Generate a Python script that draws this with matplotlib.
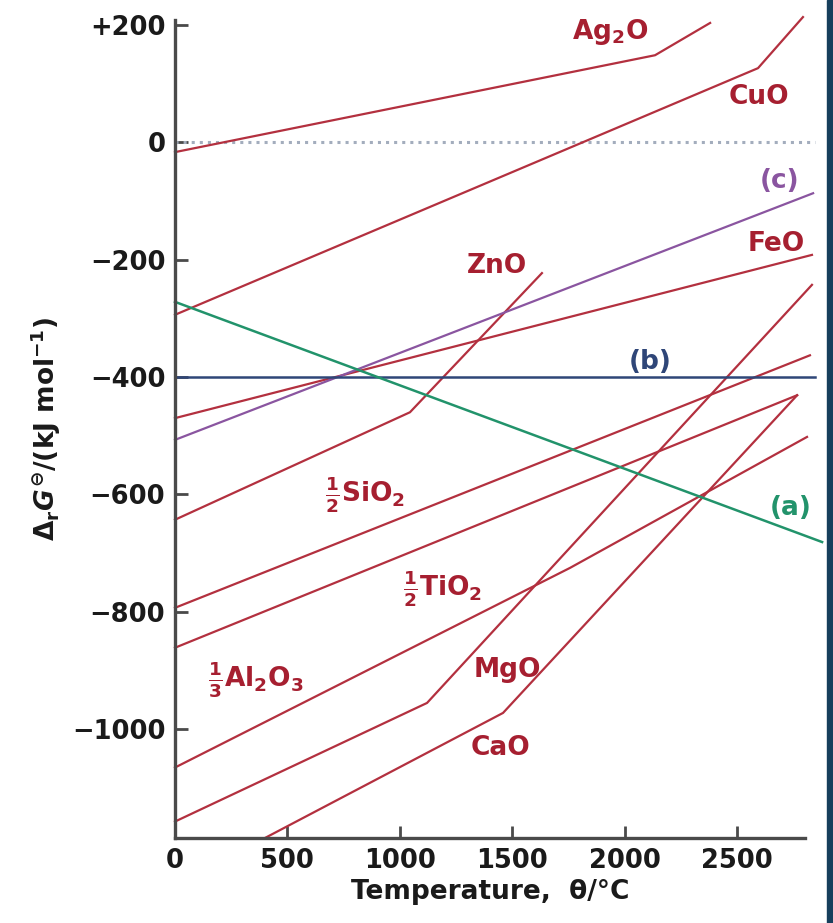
import matplotlib
matplotlib.use("Agg")
import matplotlib.pyplot as plt
from matplotlib.patches import Rectangle

plt.rcParams['font.family'] = ['DejaVu Sans']
plt.rcParams['font.weight'] = 'bold'
plt.rcParams['mathtext.fontset'] = 'custom'
plt.rcParams['mathtext.rm'] = 'DejaVu Sans:bold'
plt.rcParams['mathtext.it'] = 'DejaVu Sans:bold:italic'
plt.rcParams['mathtext.bf'] = 'DejaVu Sans:bold'

# Ellingham lines: temperature (°C) and ΔrG° (kJ/mol)
ag2o_t = [0, 2135, 2380]
ag2o_g = [-17, 148, 203]
cuo_t = [0, 2593, 2793]
cuo_g = [-294, 126, 213]
feo_t = [0, 2833]
feo_g = [-470, -192]
zno_t = [0, 1045, 1632]
zno_g = [-643, -460, -223]
sio2_t = [0, 2824]
sio2_g = [-793, -363]
tio2_t = [0, 2767]
tio2_g = [-861, -431]
al2o3_t = [0, 1757, 2811]
al2o3_g = [-1065, -725, -502]
mgo_t = [0, 1121, 2833]
mgo_g = [-1157, -955, -243]
cao_t = [400, 1459, 2767]
cao_g = [-1185, -972, -431]

# carbon lines
a_t = [0, 2878]
a_g = [-272, -681]
b_t = [0, 2847]
b_g = [-400, -400]
c_t = [0, 2838]
c_g = [-507, -87]
zero_t = [0, 2847]
zero_g = [0, 0]

x_ticks = [0, 500, 1000, 1500, 2000, 2500]
y_ticks = [200, 0, -200, -400, -600, -800, -1000]
y_tick_labels = ['+200', '0', '\u2212200', '\u2212400', '\u2212600', '\u2212800', '\u22121000']

RED = '#b3303f'
RED_TXT = '#a61f30'
GREEN = '#22936b'
BLUE = '#2f4678'
PURPLE = '#8a55a0'

fig = plt.figure(figsize=(8.33, 9.23), dpi=100)
ax = fig.add_axes([175 / 833, 1 - 838 / 923, 630 / 833, 818 / 923])

ax.plot(zero_t, zero_g, color='#a3adbd', lw=2.2, ls=':', clip_on=False)
for t, g in [(ag2o_t, ag2o_g), (cuo_t, cuo_g), (feo_t, feo_g), (zno_t, zno_g),
             (sio2_t, sio2_g), (tio2_t, tio2_g), (al2o3_t, al2o3_g),
             (mgo_t, mgo_g), (cao_t, cao_g)]:
    ax.plot(t, g, color=RED, lw=1.6, clip_on=False)
ax.plot(c_t, c_g, color=PURPLE, lw=1.6, clip_on=False)
ax.plot(b_t, b_g, color=BLUE, lw=1.8, clip_on=False)
ax.plot(a_t, a_g, color=GREEN, lw=1.8, clip_on=False)

fs = 19
labels = [
    (1935, 187, r'Ag$_2$O', RED_TXT),
    (2598, 77, 'CuO', RED_TXT),
    (2691, -66, '(c)', PURPLE),
    (2673, -174, 'FeO', RED_TXT),
    (1432, -211, 'ZnO', RED_TXT),
    (2113, -374, '(b)', BLUE),
    (2740, -623, '(a)', GREEN),
    (845, -601, r'$\frac{1}{2}$SiO$_2$', RED_TXT),
    (1188, -761, r'$\frac{1}{2}$TiO$_2$', RED_TXT),
    (360, -916, r'$\frac{1}{3}$Al$_2$O$_3$', RED_TXT),
    (1477, -899, 'MgO', RED_TXT),
    (1446, -1031, 'CaO', RED_TXT),
]
for x, y, s, c in labels:
    ax.text(x, y, s, color=c, fontsize=fs, fontweight='bold', ha='center', va='center')

ax.set_xlim(0, 2802)
ax.set_ylim(-1185, 208)
ax.set_xticks(x_ticks)
ax.set_yticks(y_ticks)
ax.set_yticklabels(y_tick_labels)
for s in ['top', 'right']:
    ax.spines[s].set_visible(False)
for s in ['left', 'bottom']:
    ax.spines[s].set_color('#4a4a4a')
    ax.spines[s].set_linewidth(2.4)
ax.tick_params(direction='in', length=9, width=2, color='#4a4a4a',
               labelsize=18.5, labelcolor='#1a1a1a', pad=7)

ax.set_xlabel('Temperature,  \u03b8/\u00b0C', fontsize=19, fontweight='bold', color='#1a1a1a', labelpad=4)
ax.set_ylabel(r'$\Delta_{\mathrm{r}}G^{\ominus}$/(kJ mol$^{-1}$)', fontsize=19,
              fontweight='bold', color='#1a1a1a', labelpad=6)

fig.patches.append(Rectangle((827 / 833, 0), 6 / 833, 1, transform=fig.transFigure,
                             color='#173f5c', zorder=10))

fig.savefig('out.png', dpi=100)
